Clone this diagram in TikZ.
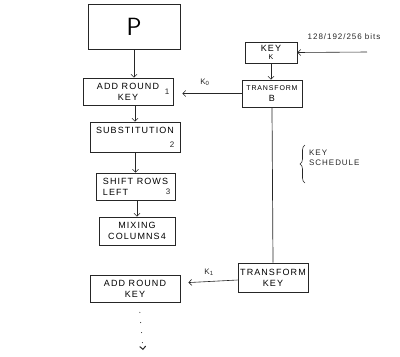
\documentclass[tikz,border=0pt]{standalone}
\usepackage{fontspec}
\usepackage{tikz}
\usetikzlibrary{arrows.meta,decorations.pathreplacing}

\newfontfamily\handtext{Liberation Sans}[LetterSpace=12]

\begin{document}
\begin{tikzpicture}[x=1pt, y=-1pt]
  % Styles
  \tikzset{
    block/.style={rectangle, draw=black!85, line width=0.7pt, align=center,
      inner sep=1pt, font=\handtext\small},
    tag/.style={font=\handtext\footnotesize, inner sep=0pt, black!85},
    arrow/.style={-{Straight Barb[length=3pt,width=6pt]}, line width=0.6pt, black!85}
  }
  \useasboundingbox (0,0) rectangle (400,357);

  % Round blocks
  \node[block, minimum width=92pt, minimum height=45pt, font=\sffamily\Huge] (plain) at (134,27) {P};
  \node[block, minimum width=90pt, minimum height=27pt] (addkey1) at (128,91.5) {ADD ROUND\\KEY};
  \node[tag] (num1) at (167,92) {1};
  \node[block, minimum width=90pt, minimum height=30pt] (subst) at (135,137) {SUBSTITUTION\\[2pt]};
  \node[tag] (num2) at (172,145) {2};
  \node[block, minimum width=79pt, minimum height=27pt, align=left] (shift) at (135.5,186.5) {SHIFT ROWS\\LEFT};
  \node[tag] (num3) at (168,192) {3};
  \node[block, minimum width=76pt, minimum height=28pt] (mix) at (137,231) {MIXING\\COLUMNS4};
  \node[block, minimum width=90pt, minimum height=27pt] (addkey2) at (135,288.5) {ADD ROUND\\KEY};

  % Key schedule
  \node[block, minimum width=52pt, minimum height=21pt] (key) at (271,52.5) {KEY\\[-3pt]{\scriptsize K}};
  \node[block, minimum width=60pt, minimum height=27pt] (trans0) at (272,93.5) {{\scriptsize TRANSFORM}\\B};
  \node[block, minimum width=70pt, minimum height=29pt] (transkey) at (273,277.5) {TRANSFORM\\KEY};

  % Labels
  \node[tag] (bits) at (344,37) {128/192/256 bits};
  \node[tag] (k0) at (205,82) {K\textsubscript{0}};
  \node[tag] (k1) at (209,272) {K\textsubscript{1}};
  \node[tag, align=left, anchor=west] (sched) at (309,158) {KEY\\SCHEDULE};
  \coordinate (keyin) at (367,52);
  \coordinate (dotend) at (143,350);

  % Arrows - round flow
  \draw[arrow] (plain.south) -- (plain.south |- addkey1.north);
  \draw[arrow] (subst.north |- addkey1.south) -- (subst.north);
  \draw[arrow] (shift.north |- subst.south) -- (shift.north);
  \draw[arrow] (mix.north |- shift.south) -- (mix.north);
  \draw[arrow, line width=1pt, dash pattern=on 0.1pt off 10pt, line cap=round] ([xshift=4pt]addkey2.south) -- (dotend);

  % Arrows - key schedule
  \draw[arrow] (keyin) -- (key.east);
  \draw[arrow] (key.south) -- (key.south |- trans0.north);
  \draw[arrow, shorten >=9pt] (trans0.west) -- (trans0.west -| addkey1.east);
  \draw[line width=0.7pt, black!85] (trans0.south) -- (transkey.north);
  \draw[arrow, shorten >=8pt] ([yshift=-2.5pt]transkey.west) -- ([yshift=5.5pt]addkey2.east);
  \draw[decorate, decoration={brace, amplitude=5pt}, line width=0.6pt, black!85] (305,183) -- (305,145);

\end{tikzpicture}
\end{document}
